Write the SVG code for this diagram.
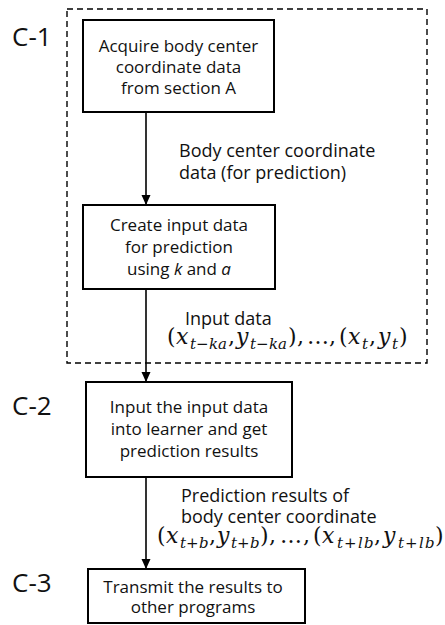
<svg xmlns="http://www.w3.org/2000/svg" width="445" height="625" viewBox="0 0 445 625">
  <style>
    .bg { fill: #ffffff; }
    .box { fill: #ffffff; stroke: #000000; stroke-width: 2; }
    .group { fill: none; stroke: #000000; stroke-width: 1.4; stroke-dasharray: 6 4; }
    .edge { fill: none; stroke: #000000; stroke-width: 1.6; marker-end: url(#arrow); }
    .t { font-family: "Open Sans", "Noto Sans", "DejaVu Sans", sans-serif; fill: #111111; }
    .node { font-size: 17px; text-anchor: middle; }
    .lbl { font-size: 18px; }
    .step { font-size: 26px; }
    .m { font-family: "DejaVu Serif", "Liberation Serif", serif; fill: #111111; font-size: 22px; }
    .i { font-style: italic; }
    .s { font-size: 15px; }
  </style>
  <defs>
    <marker id="arrow" markerUnits="userSpaceOnUse" markerWidth="10" markerHeight="10" refX="10" refY="5" orient="auto">
      <path d="M0,0.5 L10,5 L0,9.5 z" fill="#000000"/>
    </marker>
  </defs>

  <rect class="bg" x="0" y="0" width="445" height="625"/>

  <!-- dashed grouping frame around step C-1 -->
  <rect id="group-c1" class="group" x="67" y="9" width="360" height="354"/>

  <!-- step labels -->
  <g id="step-labels">
    <text class="t step" x="12" y="46">C-1</text>
    <text class="t step" x="12" y="415">C-2</text>
    <text class="t step" x="12" y="592">C-3</text>
  </g>

  <!-- connectors -->
  <g id="connectors">
    <line class="edge" x1="146" y1="112" x2="146" y2="205"/>
    <line class="edge" x1="146" y1="289" x2="146" y2="382"/>
    <line class="edge" x1="146" y1="477" x2="146" y2="569"/>
  </g>

  <!-- connector labels -->
  <g id="label-1">
    <text class="t lbl" x="179" y="157">Body center coordinate</text>
    <text class="t lbl" x="179" y="179">data (for prediction)</text>
  </g>
  <g id="label-2">
    <text class="t lbl" x="185" y="325">Input data</text>
    <text class="m" y="344">
      <tspan x="167">(</tspan><tspan class="i" x="176">x</tspan>
      <tspan class="i s" x="190" y="349">t</tspan><tspan class="s" x="196" y="349">−</tspan><tspan class="i s" x="209" y="349">k</tspan><tspan class="i s" x="218" y="349">a</tspan>
      <tspan x="228" y="344">,</tspan><tspan class="i" x="236">y</tspan>
      <tspan class="i s" x="250" y="349">t</tspan><tspan class="s" x="256" y="349">−</tspan><tspan class="i s" x="269" y="349">k</tspan><tspan class="i s" x="278" y="349">a</tspan>
      <tspan x="288" y="344">)</tspan><tspan x="297">,</tspan><tspan x="307">…</tspan><tspan x="329">,</tspan>
      <tspan x="339">(</tspan><tspan class="i" x="348">x</tspan><tspan class="i s" x="362" y="349">t</tspan>
      <tspan x="369" y="344">,</tspan><tspan class="i" x="378">y</tspan><tspan class="i s" x="392" y="349">t</tspan>
      <tspan x="399" y="344">)</tspan>
    </text>
  </g>
  <g id="label-3">
    <text class="t lbl" x="181" y="502">Prediction results of</text>
    <text class="t lbl" x="181" y="523">body center coordinate</text>
    <text class="m" y="543">
      <tspan x="157">(</tspan><tspan class="i" x="166">x</tspan>
      <tspan class="i s" x="180" y="548">t</tspan><tspan class="s" x="186" y="548">+</tspan><tspan class="i s" x="199" y="548">b</tspan>
      <tspan x="209" y="543">,</tspan><tspan class="i" x="217">y</tspan>
      <tspan class="i s" x="231" y="548">t</tspan><tspan class="s" x="237" y="548">+</tspan><tspan class="i s" x="250" y="548">b</tspan>
      <tspan x="260" y="543">)</tspan><tspan x="269">,</tspan><tspan x="280">…</tspan><tspan x="303">,</tspan>
      <tspan x="313">(</tspan><tspan class="i" x="322">x</tspan>
      <tspan class="i s" x="337" y="548">t</tspan><tspan class="s" x="344" y="548">+</tspan><tspan class="i s" x="358" y="548">l</tspan><tspan class="i s" x="364" y="548">b</tspan>
      <tspan x="374" y="543">,</tspan><tspan class="i" x="383">y</tspan>
      <tspan class="i s" x="398" y="548">t</tspan><tspan class="s" x="405" y="548">+</tspan><tspan class="i s" x="419" y="548">l</tspan><tspan class="i s" x="425" y="548">b</tspan>
      <tspan x="435" y="543">)</tspan>
    </text>
  </g>

  <!-- process nodes -->
  <g id="node-acquire">
    <rect class="box" x="83" y="20" width="191" height="92"/>
    <text class="t node" x="178.5" y="52">Acquire body center</text>
    <text class="t node" x="178.5" y="73">coordinate data</text>
    <text class="t node" x="178.5" y="94">from section A</text>
  </g>
  <g id="node-create">
    <rect class="box" x="83" y="205" width="192" height="84"/>
    <text class="t node" x="179" y="231">Create input data</text>
    <text class="t node" x="179" y="253">for prediction</text>
    <text class="t node" x="179" y="275">using <tspan font-style="italic">k</tspan> and <tspan font-style="italic">a</tspan></text>
  </g>
  <g id="node-learner">
    <rect class="box" x="86" y="382" width="206" height="95"/>
    <text class="t node" x="189" y="413">Input the input data</text>
    <text class="t node" x="189" y="435">into learner and get</text>
    <text class="t node" x="189" y="457">prediction results</text>
  </g>
  <g id="node-transmit">
    <rect class="box" x="88" y="569" width="217" height="54"/>
    <text class="t node" x="193" y="593">Transmit the results to</text>
    <text class="t node" x="193" y="613">other programs</text>
  </g>
</svg>
